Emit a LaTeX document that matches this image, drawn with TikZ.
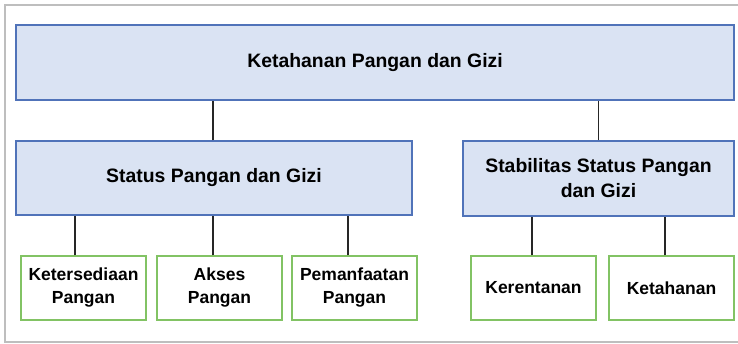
\documentclass[tikz,border=0pt]{standalone}
\usepackage{fontspec}
\setmainfont{Liberation Sans}
\usepackage{tikz}
\usetikzlibrary{calc}
\usepackage{xcolor}
\definecolor{boxblue}{RGB}{218,227,243}
\definecolor{edgeblue}{RGB}{80,115,185}
\definecolor{edgegreen}{RGB}{130,195,100}
\definecolor{framegray}{RGB}{190,190,190}
\tikzset{
    bluebox/.style={draw=edgeblue, fill=boxblue, line width=1.3pt, align=center,
        font=\fontsize{19.4}{25}\selectfont\bfseries, inner sep=0pt},
    greenbox/.style={draw=edgegreen, fill=white, line width=1.3pt, align=center,
        minimum width=125pt, minimum height=64pt,
        font=\fontsize{17.5}{23}\selectfont\bfseries, inner sep=0pt},
    link/.style={draw=black!85, line width=1.3pt}
}

\begin{document}
\begin{tikzpicture}[x=1pt, y=-1pt]
    \useasboundingbox (0,0) rectangle (738,344);
    % outer frame
    \draw[framegray, line width=1.3pt] (738,5) -- (5,5) -- (5,342) -- (738,342);
    % level 1
    \node[bluebox, minimum width=718pt, minimum height=75pt] (top) at (375,62.5) {Ketahanan Pangan dan Gizi};
    % level 2
    \node[bluebox, minimum width=396pt, minimum height=74pt] (status) at (214,178) {Status Pangan dan Gizi};
    \node[bluebox, minimum width=271pt, minimum height=75pt] (stabil) at (598.5,178.5) {Stabilitas Status Pangan\\dan Gizi};
    % level 3
    \node[greenbox] (sedia) at (83.5,288) {Ketersediaan\\Pangan};
    \node[greenbox] (akses) at (219.5,288) {Akses\\Pangan};
    \node[greenbox] (manfaat) at (354.5,288) {Pemanfaatan\\Pangan};
    \node[greenbox] (rentan) at (533.5,288) {Kerentanan};
    \node[greenbox] (tahan) at (671.5,288) {Ketahanan};
    % connectors
    \draw[link] ([xshift=-1pt]status.north) -- ([xshift=-1pt]status.north |- top.south);
    \draw[link] (stabil.north) -- (stabil.north |- top.south);
    \draw[link] ([xshift=-8.5pt]sedia.north) -- ([xshift=-8.5pt]sedia.north |- status.south);
    \draw[link] ([xshift=-6.5pt]akses.north) -- ([xshift=-6.5pt]akses.north |- status.south);
    \draw[link] ([xshift=-6.5pt]manfaat.north) -- ([xshift=-6.5pt]manfaat.north |- status.south);
    \draw[link] ([xshift=-1.5pt]rentan.north) -- ([xshift=-1.5pt]rentan.north |- stabil.south);
    \draw[link] ([xshift=-6.5pt]tahan.north) -- ([xshift=-6.5pt]tahan.north |- stabil.south);
\end{tikzpicture}
\end{document}
